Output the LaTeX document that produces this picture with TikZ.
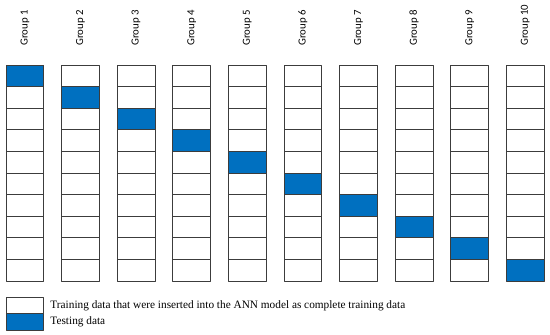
\documentclass[tikz,border=0pt]{standalone}
\usepackage{fontspec}
\setmainfont{Liberation Serif}
\newfontfamily\grpfont{Carlito}
\definecolor{testblue}{RGB}{0,112,192}
\definecolor{cellline}{RGB}{60,60,60}
\begin{document}
\begin{tikzpicture}[x=1pt, y=1pt, line join=round, line width=0.9pt]
	\def\cw{37.8} \def\ch{21.6} \def\dx{55.6} \def\xo{6} \def\yo{270}
	\useasboundingbox (0,0) rectangle (550,335);
	\foreach \i in {1,...,10}
	{\pgfmathsetmacro\xl{\xo+(\i-1)*\dx}
		\fill[testblue] (\xl,\yo-\i*\ch) rectangle ++(\cw,\ch);
		\foreach \j in {1,...,10}
		\draw[cellline] (\xl,\yo-\j*\ch) rectangle ++(\cw,\ch);
		\node[font=\grpfont\fontsize{10.8}{12}\selectfont, rotate=90, anchor=west, inner sep=0pt] (g\i) at (\xl+\cw/2,289) {Group \i};}
	% legend
	\draw[cellline] (6,38) rectangle (43.8,21.5);
	\draw[cellline, fill=testblue] (6,21.5) rectangle (43.8,5);
	\node[anchor=west, inner sep=0pt, font=\fontsize{11.3}{12}\selectfont] (train) at (50,29.5) {Training data that were inserted into the ANN model as complete training data};
	\node[anchor=west, inner sep=0pt, font=\fontsize{11.3}{12}\selectfont] (test) at (50,13) {Testing data};
\end{tikzpicture}
\end{document}
